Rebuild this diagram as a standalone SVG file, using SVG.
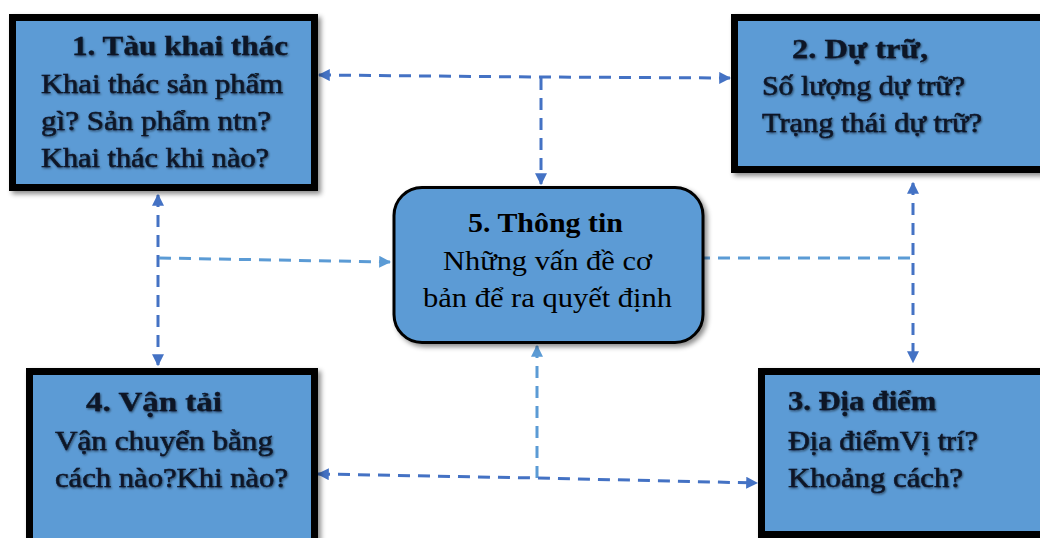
<svg xmlns="http://www.w3.org/2000/svg" width="1040" height="538" viewBox="0 0 1040 538">
<style>
.box{fill:#5B9BD5;stroke:#000;stroke-width:7;filter:url(#sh)}
.rbox{fill:#5B9BD5;stroke:#000;stroke-width:3;filter:url(#sh)}
.t{font-family:"Liberation Serif","Times New Roman",serif;font-size:27px;fill:#0b1526;stroke:#0b1526;stroke-width:0.5;filter:url(#tsh)}
.b{font-weight:bold;stroke-width:0.3}
.c{font-family:"Liberation Serif","Times New Roman",serif;font-size:27px;fill:#000}
.ln{fill:none;stroke:#4472C4;stroke-width:3;stroke-dasharray:12 8}
.lt{fill:none;stroke:#5B9BD5;stroke-width:3;stroke-dasharray:12 8}
</style>
<defs>
<filter id="sh" x="-10%" y="-10%" width="125%" height="125%">
<feDropShadow dx="3" dy="3" stdDeviation="2.5" flood-color="#000" flood-opacity="0.45"/>
</filter>
<filter id="tsh" x="-5%" y="-20%" width="110%" height="140%">
<feDropShadow dx="1" dy="1.2" stdDeviation="0.9" flood-color="#000" flood-opacity="0.55"/>
</filter>
<marker id="ah" viewBox="0 0 10 10" refX="9" refY="5" markerWidth="4" markerHeight="4" orient="auto-start-reverse" markerUnits="strokeWidth">
<path d="M0,0 L10,5 L0,10 z" fill="#4472C4"/>
</marker>
<marker id="ah2" viewBox="0 0 10 10" refX="9" refY="5" markerWidth="4" markerHeight="4" orient="auto-start-reverse" markerUnits="strokeWidth">
<path d="M0,0 L10,5 L0,10 z" fill="#5B9BD5"/>
</marker>
</defs>
<g id="connectors">
<path class="ln" d="M319,75 L540,77 L730,78" marker-start="url(#ah)" marker-end="url(#ah)"/>
<path class="ln" d="M541,78 L541,184" marker-end="url(#ah)"/>
<path class="ln" d="M158,195 L158,365" marker-start="url(#ah)" marker-end="url(#ah)"/>
<path class="lt" d="M159,258 L390,262" marker-end="url(#ah2)"/>
<path class="lt" d="M698,258 L913,258"/>
<path class="ln" d="M913,183 L913,362" marker-start="url(#ah)" marker-end="url(#ah)"/>
<path class="lt" d="M537,346 L537,478" marker-start="url(#ah2)"/>
<path class="ln" d="M318,474 L537,478 L757,483" marker-start="url(#ah)" marker-end="url(#ah)"/>
</g>
<g id="node1">
<rect class="box" x="12.5" y="17.5" width="302" height="170"/>
<text class="t b" x="72" y="55" textLength="216" lengthAdjust="spacingAndGlyphs">1.  Tàu khai thác</text>
<text class="t" x="41" y="93" textLength="242" lengthAdjust="spacingAndGlyphs">Khai thác sản phẩm</text>
<text class="t" x="41" y="130" textLength="230" lengthAdjust="spacingAndGlyphs">gì? Sản phẩm ntn?</text>
<text class="t" x="41" y="167" textLength="228" lengthAdjust="spacingAndGlyphs">Khai thác khi nào?</text>
</g>
<g id="node2">
<rect class="box" x="734.5" y="17.5" width="310" height="152"/>
<text class="t b" x="792" y="58" textLength="136" lengthAdjust="spacingAndGlyphs">2.  Dự trữ,</text>
<text class="t" x="762" y="95" textLength="203" lengthAdjust="spacingAndGlyphs">Số lượng dự trữ?</text>
<text class="t" x="762" y="132" textLength="220" lengthAdjust="spacingAndGlyphs">Trạng thái dự trữ?</text>
</g>
<g id="node5">
<rect class="rbox" x="394" y="187.5" width="309" height="155" rx="28" ry="28"/>
<text class="c b" x="468" y="232" textLength="155" lengthAdjust="spacingAndGlyphs">5. Thông tin</text>
<text class="c" x="443" y="270" textLength="209" lengthAdjust="spacingAndGlyphs">Những vấn đề cơ</text>
<text class="c" x="423" y="307" textLength="249" lengthAdjust="spacingAndGlyphs">bản để ra quyết định</text>
</g>
<g id="node4">
<rect class="box" x="29.5" y="371.5" width="285" height="180"/>
<text class="t b" x="86" y="411" textLength="136" lengthAdjust="spacingAndGlyphs">4.  Vận tải</text>
<text class="t" x="55" y="450" textLength="218" lengthAdjust="spacingAndGlyphs">Vận chuyển bằng</text>
<text class="t" x="55" y="487" textLength="233" lengthAdjust="spacingAndGlyphs">cách nào?Khi nào?</text>
</g>
<g id="node3">
<rect class="box" x="761.5" y="371.5" width="290" height="163"/>
<text class="t b" x="788" y="410" textLength="148" lengthAdjust="spacingAndGlyphs">3. Địa điểm</text>
<text class="t" x="788" y="450" textLength="190" lengthAdjust="spacingAndGlyphs">Địa điểmVị trí?</text>
<text class="t" x="788" y="487" textLength="175" lengthAdjust="spacingAndGlyphs">Khoảng cách?</text>
</g>
</svg>
